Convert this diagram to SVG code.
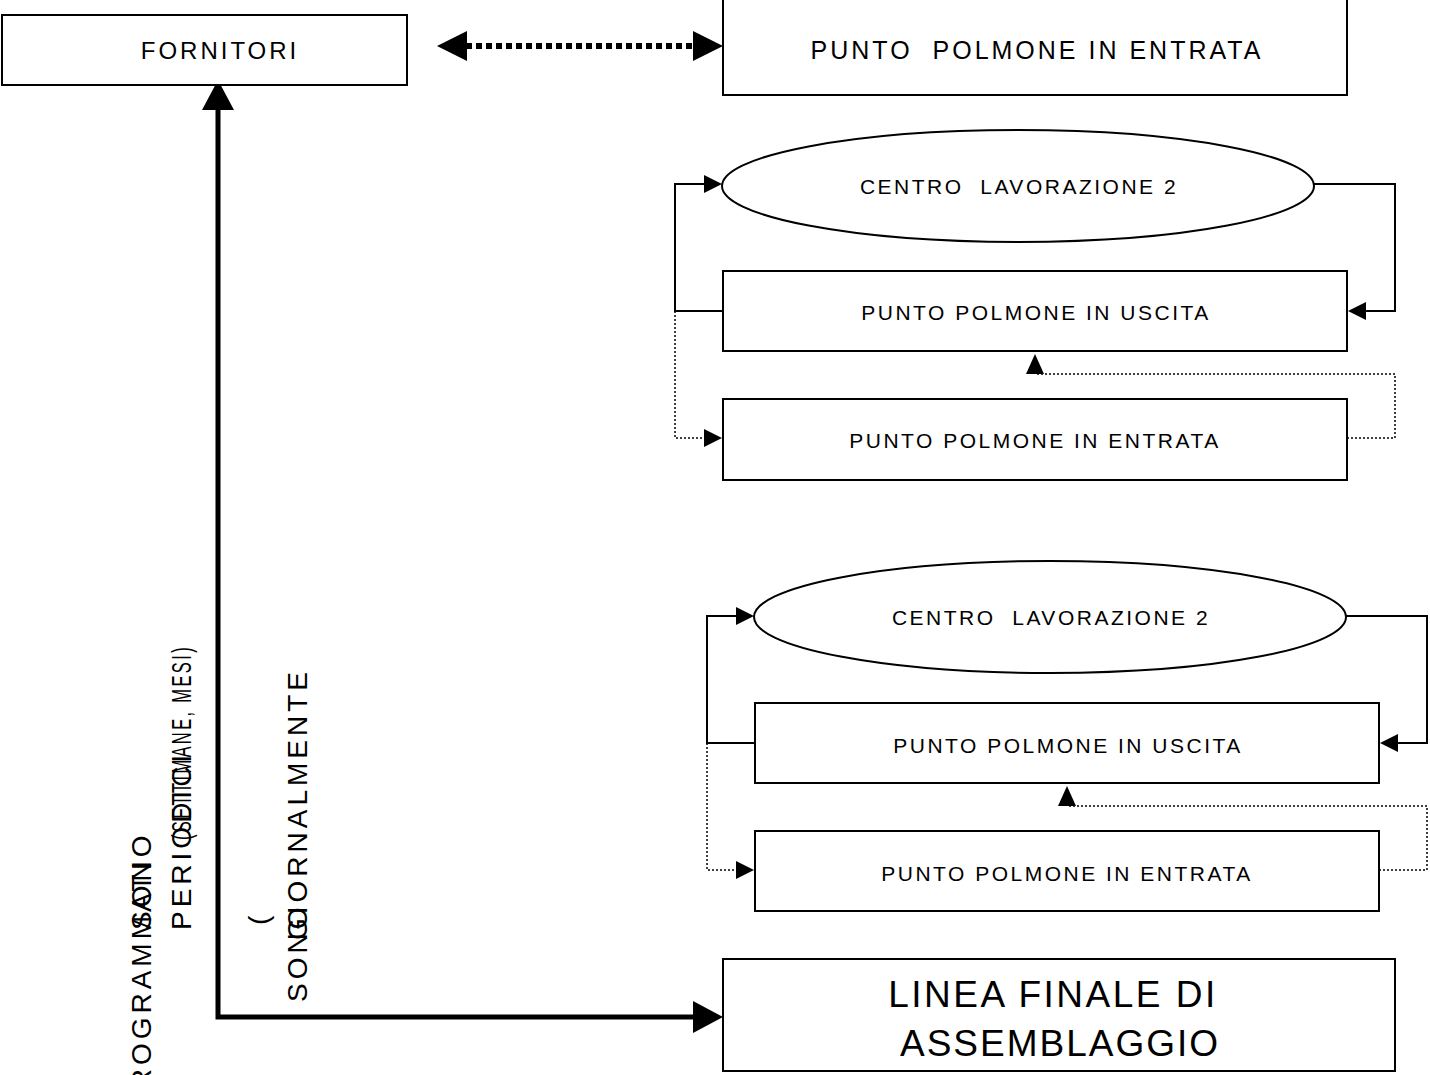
<svg xmlns="http://www.w3.org/2000/svg" width="1430" height="1075" viewBox="0 0 1430 1075">
<style>
.box{fill:#fff;stroke:#000;stroke-width:2}
.t{font-family:"Liberation Sans",Arial,sans-serif;fill:#000;text-anchor:middle}
.m{font-size:21px;letter-spacing:2.5px}
.s{stroke:#000;stroke-width:2;fill:none}
.d{stroke:#000;stroke-width:1.5;fill:none;stroke-dasharray:2 2}
.thick{stroke:#000;stroke-width:5;fill:none}
.r{font-family:"Liberation Sans",Arial,sans-serif;font-size:28px;fill:#000;letter-spacing:4px}
</style>
<rect width="1430" height="1075" fill="#fff"/>

<g id="connectors">
<line x1="466" y1="46" x2="693" y2="46" stroke="#000" stroke-width="6" stroke-dasharray="6 4"/>
<path d="M437,46 L467,31 L467,61 Z"/>
<path d="M723,46 L693,31 L693,61 Z"/>
<path class="thick" d="M218,108 L218,1017 L695,1017"/>
<path d="M218,80 L202,110 L234,110 Z"/>
<path d="M723,1017 L693,1001 L693,1033 Z"/>
<path class="s" d="M723,311 L675,311 L675,184 L705,184"/>
<path d="M722,184 L704,175 L704,193 Z"/>
<path class="s" d="M1314,184 L1395,184 L1395,311 L1365,311"/>
<path d="M1348,311 L1366,302 L1366,320 Z"/>
<path class="d" d="M675,311 L675,438 L705,438"/>
<path d="M722,438 L704,429 L704,447 Z"/>
<path class="d" d="M1347,438 L1395,438 L1395,374 L1035,374"/>
<path d="M1035,354 L1026,374 L1044,374 Z"/>
<path class="s" d="M755,743 L707,743 L707,616 L737,616"/>
<path d="M754,616 L736,607 L736,625 Z"/>
<path class="s" d="M1346,616 L1427,616 L1427,743 L1397,743"/>
<path d="M1380,743 L1398,734 L1398,752 Z"/>
<path class="d" d="M707,743 L707,870 L737,870"/>
<path d="M754,870 L736,861 L736,879 Z"/>
<path class="d" d="M1379,870 L1427,870 L1427,806 L1067,806"/>
<path d="M1067,786 L1058,806 L1076,806 Z"/>
</g>

<g id="fornitori">
<rect class="box" x="2" y="15" width="405" height="70"/>
<text class="t" x="220" y="59" font-size="24" letter-spacing="3">FORNITORI</text>
</g>
<g id="punto-polmone-entrata-top">
<rect class="box" x="723" y="-2" width="624" height="97"/>
<text class="t" x="1037" y="59" font-size="25" letter-spacing="3" xml:space="preserve">PUNTO  POLMONE IN ENTRATA</text>
</g>

<g id="centro1">
<ellipse class="box" cx="1018" cy="186" rx="296" ry="56"/>
<text class="t m" x="1019" y="194" xml:space="preserve">CENTRO  LAVORAZIONE 2</text>
</g>
<g id="uscita1">
<rect class="box" x="723" y="271" width="624" height="80"/>
<text class="t m" x="1036" y="320">PUNTO POLMONE IN USCITA</text>
</g>
<g id="entrata1">
<rect class="box" x="723" y="399" width="624" height="81"/>
<text class="t m" x="1035" y="448">PUNTO POLMONE IN ENTRATA</text>
</g>

<g id="centro2">
<ellipse class="box" cx="1050" cy="617" rx="296" ry="56"/>
<text class="t m" x="1051" y="625" xml:space="preserve">CENTRO  LAVORAZIONE 2</text>
</g>
<g id="uscita2">
<rect class="box" x="755" y="703" width="624" height="80"/>
<text class="t m" x="1068" y="753">PUNTO POLMONE IN USCITA</text>
</g>
<g id="entrata2">
<rect class="box" x="755" y="831" width="624" height="80"/>
<text class="t m" x="1067" y="881">PUNTO POLMONE IN ENTRATA</text>
</g>

<g id="linea-finale">
<rect class="box" x="723" y="959" width="672" height="112"/>
<text class="t" x="1053" y="1007" font-size="37" letter-spacing="2.5">LINEA FINALE DI</text>
<text class="t" x="1060" y="1056" font-size="37" letter-spacing="2">ASSEMBLAGGIO</text>
</g>

<g id="label-rotated">
<text class="r" transform="translate(151,1112) rotate(-90)">PROGRAMMATI</text>
<text class="r" transform="translate(151,930) rotate(-90)">SONO</text>
<text class="r" transform="translate(191,930) rotate(-90)">PERIODICI</text>
<text class="r" transform="translate(191,840) rotate(-90)" textLength="195" lengthAdjust="spacingAndGlyphs">(SETTIMANE, MESI)</text>
<text class="r" transform="translate(268,925) rotate(-90)">(</text>
<text class="r" transform="translate(307,1002) rotate(-90)">SONO</text>
<text class="r" transform="translate(307,940) rotate(-90)">GIORNALMENTE</text>
</g>
</svg>
